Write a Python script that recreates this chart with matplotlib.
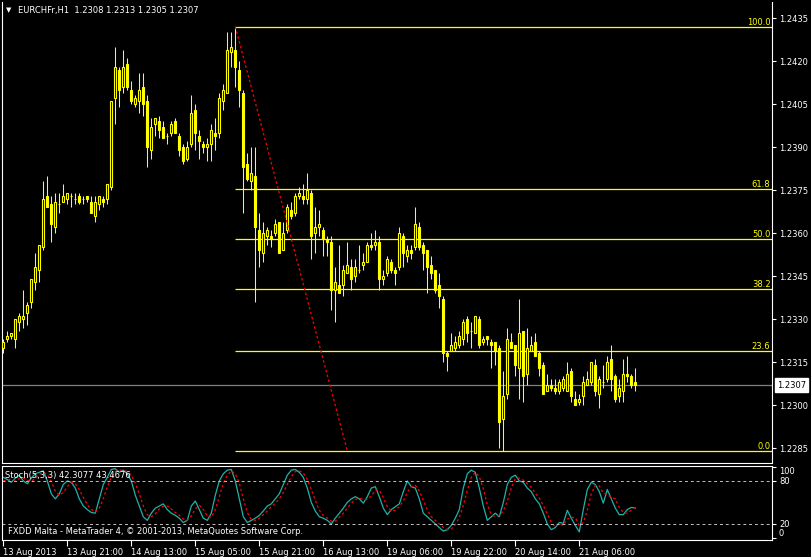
import numpy as np
import matplotlib
matplotlib.use("Agg")
import matplotlib.pyplot as plt
import matplotlib.transforms as mtransforms

# EURCHFr H1, one value per bar, bar 0 = 13 Aug 2013 05:00
symbol = "EURCHFr,H1"
opens = [
    1.2320, 1.2323, 1.2324, 1.2323, 1.2329, 1.2330, 1.2332, 1.2336, 1.2343, 1.2347,
    1.2355, 1.2373, 1.2370, 1.2362, 1.2370, 1.2371, 1.2372, 1.2373, 1.2372, 1.2373,
    1.2372, 1.2373, 1.2371, 1.2366, 1.2370, 1.2372, 1.2372, 1.2376, 1.2407, 1.2417,
    1.2411, 1.2419, 1.2410, 1.2405, 1.2406, 1.2411, 1.2406, 1.2389, 1.2398, 1.2399,
    1.2397, 1.2394, 1.2395, 1.2399, 1.2394, 1.2390, 1.2386, 1.2391, 1.2403, 1.2394,
    1.2391, 1.2390, 1.2391, 1.2395, 1.2395, 1.2406, 1.2409, 1.2423, 1.2424, 1.2417,
    1.2409, 1.2384, 1.2378, 1.2380, 1.2361, 1.2353, 1.2359, 1.2359, 1.2360, 1.2364,
    1.2354, 1.2361, 1.2368, 1.2367, 1.2373, 1.2373, 1.2372, 1.2374, 1.2360, 1.2362,
    1.2361, 1.2358, 1.2357, 1.2340, 1.2342, 1.2342, 1.2346, 1.2348, 1.2345, 1.2347,
    1.2349, 1.2350, 1.2356, 1.2356, 1.2357, 1.2344, 1.2346, 1.2350, 1.2347, 1.2348,
    1.2359, 1.2352, 1.2354, 1.2355, 1.2362, 1.2356, 1.2354, 1.2349, 1.2347, 1.2342,
    1.2337, 1.2318, 1.2319, 1.2320, 1.2321, 1.2323, 1.2330, 1.2326, 1.2325, 1.2330,
    1.2322, 1.2324, 1.2322, 1.2322, 1.2320, 1.2295, 1.2304, 1.2322, 1.2321, 1.2313,
    1.2326, 1.2311, 1.2319, 1.2322, 1.2318, 1.2314, 1.2305, 1.2307, 1.2306, 1.2305,
    1.2306, 1.2305, 1.2312, 1.2302, 1.2301, 1.2303, 1.2307, 1.2308, 1.2314, 1.2304,
    1.2308, 1.2309, 1.2316, 1.2310, 1.2303, 1.2305, 1.2311, 1.2310, 1.2308]
highs = [
    1.2323, 1.2326, 1.2325, 1.2330, 1.2332, 1.2340, 1.2336, 1.2344, 1.2353, 1.2356,
    1.2378, 1.2380, 1.2373, 1.2374, 1.2374, 1.2377, 1.2374, 1.2374, 1.2374, 1.2374,
    1.2373, 1.2373, 1.2373, 1.2373, 1.2373, 1.2373, 1.2377, 1.2406, 1.2425, 1.2418,
    1.2424, 1.2421, 1.2413, 1.2408, 1.2416, 1.2416, 1.2408, 1.2400, 1.2400, 1.2401,
    1.2399, 1.2395, 1.2399, 1.2400, 1.2395, 1.2391, 1.2392, 1.2408, 1.2405, 1.2396,
    1.2392, 1.2393, 1.2398, 1.2400, 1.2409, 1.2412, 1.2430, 1.2430, 1.2432, 1.2420,
    1.2410, 1.2388, 1.2390, 1.2390, 1.2367, 1.2364, 1.2362, 1.2361, 1.2365, 1.2364,
    1.2364, 1.2370, 1.2371, 1.2374, 1.2376, 1.2377, 1.2381, 1.2375, 1.2369, 1.2368,
    1.2362, 1.2359, 1.2359, 1.2348, 1.2356, 1.2349, 1.2357, 1.2351, 1.2351, 1.2356,
    1.2353, 1.2357, 1.2360, 1.2361, 1.2359, 1.2347, 1.2352, 1.2351, 1.2348, 1.2362,
    1.2360, 1.2356, 1.2356, 1.2369, 1.2364, 1.2357, 1.2354, 1.2352, 1.2347, 1.2346,
    1.2338, 1.2319, 1.2325, 1.2324, 1.2326, 1.2330, 1.2331, 1.2329, 1.2331, 1.2331,
    1.2324, 1.2324, 1.2323, 1.2322, 1.2321, 1.2312, 1.2327, 1.2325, 1.2321, 1.2337,
    1.2326, 1.2327, 1.2324, 1.2325, 1.2319, 1.2315, 1.2311, 1.2309, 1.2309, 1.2309,
    1.2310, 1.2315, 1.2313, 1.2305, 1.2304, 1.2310, 1.2312, 1.2315, 1.2316, 1.2310,
    1.2314, 1.2317, 1.2321, 1.2311, 1.2309, 1.2316, 1.2317, 1.2311, 1.2313]
lows = [
    1.2318, 1.2322, 1.2323, 1.2320, 1.2326, 1.2327, 1.2328, 1.2334, 1.2340, 1.2343,
    1.2354, 1.2369, 1.2357, 1.2360, 1.2367, 1.2371, 1.2370, 1.2369, 1.2370, 1.2370,
    1.2370, 1.2371, 1.2367, 1.2364, 1.2368, 1.2369, 1.2370, 1.2375, 1.2398, 1.2404,
    1.2409, 1.2410, 1.2405, 1.2404, 1.2402, 1.2401, 1.2383, 1.2386, 1.2394, 1.2393,
    1.2393, 1.2391, 1.2394, 1.2395, 1.2387, 1.2384, 1.2385, 1.2390, 1.2389, 1.2386,
    1.2388, 1.2385, 1.2385, 1.2389, 1.2393, 1.2403, 1.2409, 1.2418, 1.2411, 1.2404,
    1.2367, 1.2378, 1.2375, 1.2336, 1.2348, 1.2350, 1.2356, 1.2355, 1.2359, 1.2353,
    1.2354, 1.2360, 1.2365, 1.2366, 1.2372, 1.2370, 1.2370, 1.2351, 1.2353, 1.2359,
    1.2352, 1.2352, 1.2333, 1.2329, 1.2339, 1.2338, 1.2346, 1.2340, 1.2343, 1.2346,
    1.2347, 1.2350, 1.2354, 1.2354, 1.2340, 1.2342, 1.2345, 1.2346, 1.2342, 1.2347,
    1.2348, 1.2350, 1.2351, 1.2354, 1.2354, 1.2347, 1.2339, 1.2344, 1.2339, 1.2334,
    1.2315, 1.2312, 1.2319, 1.2319, 1.2320, 1.2321, 1.2322, 1.2320, 1.2325, 1.2320,
    1.2321, 1.2321, 1.2313, 1.2314, 1.2285, 1.2284, 1.2302, 1.2320, 1.2310, 1.2302,
    1.2301, 1.2307, 1.2319, 1.2317, 1.2310, 1.2304, 1.2305, 1.2305, 1.2304, 1.2304,
    1.2305, 1.2305, 1.2301, 1.2300, 1.2300, 1.2300, 1.2307, 1.2307, 1.2303, 1.2299,
    1.2306, 1.2308, 1.2305, 1.2301, 1.2301, 1.2301, 1.2308, 1.2306, 1.2305]
closes = [
    1.2322, 1.2324, 1.2325, 1.2330, 1.2331, 1.2331, 1.2335, 1.2344, 1.2348, 1.2356,
    1.2372, 1.2369, 1.2363, 1.2371, 1.2370, 1.2373, 1.2374, 1.2373, 1.2372, 1.2371,
    1.2372, 1.2372, 1.2367, 1.2371, 1.2373, 1.2371, 1.2377, 1.2406, 1.2418, 1.2410,
    1.2418, 1.2411, 1.2406, 1.2407, 1.2410, 1.2405, 1.2390, 1.2397, 1.2400, 1.2396,
    1.2393, 1.2394, 1.2398, 1.2395, 1.2389, 1.2385, 1.2390, 1.2402, 1.2395, 1.2392,
    1.2390, 1.2391, 1.2396, 1.2394, 1.2407, 1.2410, 1.2424, 1.2425, 1.2418, 1.2410,
    1.2383, 1.2379, 1.2381, 1.2362, 1.2354, 1.2360, 1.2361, 1.2358, 1.2363, 1.2353,
    1.2360, 1.2369, 1.2366, 1.2373, 1.2374, 1.2372, 1.2375, 1.2359, 1.2362, 1.2363,
    1.2358, 1.2357, 1.2340, 1.2343, 1.2339, 1.2347, 1.2349, 1.2344, 1.2348, 1.2347,
    1.2350, 1.2356, 1.2355, 1.2357, 1.2344, 1.2345, 1.2351, 1.2347, 1.2346, 1.2360,
    1.2353, 1.2354, 1.2353, 1.2363, 1.2355, 1.2353, 1.2348, 1.2346, 1.2340, 1.2338,
    1.2318, 1.2317, 1.2321, 1.2322, 1.2324, 1.2329, 1.2325, 1.2326, 1.2331, 1.2321,
    1.2323, 1.2323, 1.2321, 1.2319, 1.2294, 1.2303, 1.2323, 1.2320, 1.2314, 1.2325,
    1.2310, 1.2320, 1.2321, 1.2317, 1.2313, 1.2304, 1.2307, 1.2306, 1.2305, 1.2308,
    1.2309, 1.2311, 1.2303, 1.2300, 1.2302, 1.2308, 1.2309, 1.2315, 1.2305, 1.2309,
    1.2308, 1.2315, 1.2309, 1.2302, 1.2306, 1.2311, 1.2310, 1.2307, 1.2307]

stoch_main = [
    85, 82, 78, 84, 88, 80, 76, 84, 90, 92,
    94, 80, 62, 55, 62, 75, 80, 78, 70, 55,
    45, 40, 36, 35, 55, 75, 85, 96, 97, 92,
    95, 90, 80, 60, 45, 30, 25, 35, 42, 45,
    48, 40, 35, 32, 28, 22, 25, 45, 52, 40,
    28, 25, 35, 60, 80, 90, 95, 96, 80, 55,
    30, 22, 25, 28, 32, 38, 45, 48, 55, 62,
    75, 88, 95, 96, 92, 85, 70, 50, 38, 30,
    28, 25, 20, 28, 35, 42, 50, 55, 58, 55,
    49, 58, 70, 72, 58, 42, 33, 40, 44, 48,
    65, 80, 72, 70, 55, 35, 30, 25, 20, 15,
    10, 12, 18, 28, 40, 70, 90, 95, 92, 70,
    45, 25, 30, 35, 30, 50, 75, 85, 88, 80,
    78, 70, 65, 55, 48, 35, 20, 12, 15, 22,
    21, 39, 28, 18, 9, 40, 68, 78, 75, 65,
    49, 68, 55, 42, 33, 33, 40, 43, 42.3077]
stoch_signal = [
    80, 82, 82, 81, 83, 84, 81, 80, 83, 89,
    92, 89, 79, 66, 60, 64, 72, 78, 76, 68,
    57, 47, 40, 37, 42, 55, 72, 85, 93, 95,
    95, 93, 88, 77, 62, 45, 33, 30, 34, 41,
    45, 45, 41, 36, 32, 27, 25, 31, 41, 46,
    40, 31, 29, 40, 58, 77, 88, 94, 90, 77,
    55, 36, 26, 25, 28, 33, 38, 44, 49, 55,
    64, 75, 86, 93, 94, 91, 82, 68, 53, 39,
    32, 28, 24, 24, 29, 35, 42, 49, 54, 56,
    54, 54, 59, 67, 67, 57, 44, 38, 39, 44,
    52, 64, 72, 74, 66, 53, 40, 30, 25, 20,
    15, 12, 13, 19, 29, 46, 67, 85, 92, 86,
    69, 47, 33, 30, 32, 38, 52, 70, 83, 84,
    81, 76, 71, 63, 56, 46, 34, 22, 16, 20,
    18, 27, 29, 29, 18, 22, 39, 62, 74, 73,
    63, 61, 57, 55, 43, 36, 35, 39, 43.4676]

time_labels = ["13 Aug 2013", "13 Aug 21:00", "14 Aug 13:00", "15 Aug 05:00",
               "15 Aug 21:00", "16 Aug 13:00", "19 Aug 06:00", "19 Aug 22:00",
               "20 Aug 14:00", "21 Aug 06:00"]
label_every = 16  # bars between time labels

fib_levels = [0.0, 23.6, 38.2, 50.0, 61.8, 100.0]
fib_bars = [58, 86]          # bar of the high, bar where the drawn line ends
fib_prices = [1.2432, 1.2284]

W, H = 812, 557
BG = "black"
YEL = "#ffff00"
FS = 6


def box(x0, y0, x1, y1):
    return [x0 / W, 1 - y1 / H, (x1 - x0) / W, (y1 - y0) / H]


plt.rcParams["font.family"] = ["DejaVu Sans"]
fig = plt.figure(figsize=(W / 100, H / 100), dpi=100, facecolor=BG)
ax = fig.add_axes(box(2, 2, 772, 463), facecolor=BG)
ax_st = fig.add_axes(box(2, 466, 772, 540), facecolor=BG)

o, h, l, c = map(np.array, (opens, highs, lows, closes))
idx = np.arange(len(c))
up = c >= o

#%% candles
ax.vlines(idx, l, h, color=YEL, lw=0.75, zorder=2)
ax.bar(idx, np.abs(c - o), bottom=np.minimum(o, c), width=0.5,
       color=np.where(up, BG, YEL), edgecolor=YEL, linewidth=0.8, zorder=3)

#%% fibonacci + trend line
hi, lo = fib_prices
for lev in fib_levels:
    p = lo + (hi - lo) * lev / 100
    ax.hlines(p, fib_bars[0], 200, color=YEL, lw=0.9, zorder=1)
    ax.text(191.8, p, f"{lev:.1f}", color=YEL, fontsize=FS, ha="right", va="bottom")
ax.plot(fib_bars, fib_prices, color="red", lw=0.9, ls=(0, (2, 2)), zorder=4)

#%% last price
last = closes[-1]
ax.axhline(last, color="#808080", lw=0.9, zorder=1)
tr = mtransforms.blended_transform_factory(ax.transAxes, ax.transData)
ax.text(1.006, last, f"{last:.4f}", transform=tr, color="black", fontsize=FS,
        ha="left", va="center",
        bbox=dict(boxstyle="square,pad=0.25", fc="white", ec="white"))

ax.set_xlim(-0.325, 192.175)
ax.set_ylim(1.22798, 1.24406)
ax.set_yticks(np.arange(1.2285, 1.24351, 0.0015))
ax.yaxis.set_major_formatter(plt.FormatStrFormatter("%.4f"))
ax.yaxis.tick_right()
ax.tick_params(axis="y", colors="white", labelsize=FS, length=3, pad=2)
ax.tick_params(axis="x", bottom=False, labelbottom=False)
for side in ["left", "right", "bottom"]:
    ax.spines[side].set_color("white")
ax.spines["top"].set_visible(False)

#%% stochastic pane
ax_st.plot(idx, stoch_main, color="#20b2aa", lw=0.9)
ax_st.plot(idx, stoch_signal, color="red", lw=0.9, ls=(0, (2, 2)))
for lev in [80, 20]:
    ax_st.axhline(lev, color="#c0c0c0", lw=0.7, ls=(0, (3, 3)))
ax_st.set_xlim(-0.325, 192.175)
ax_st.set_ylim(-2.4, 100.8)
ax_st.yaxis.tick_right()
ax_st.set_yticks([0, 20, 80, 100])
ax_st.set_yticklabels(["0", "20", "80", "100"])
ax_st.tick_params(axis="y", colors="white", labelsize=FS, length=3, pad=2)
labs = ax_st.get_yticklabels()
labs[0].set_va("bottom")
labs[3].set_va("top")
ax_st.set_xticks(np.arange(len(time_labels)) * label_every)
ax_st.set_xticklabels(time_labels)
ax_st.tick_params(axis="x", colors="white", labelsize=FS, length=4, pad=2)
for lbl in ax_st.get_xticklabels():
    lbl.set_ha("left")
for s in ax_st.spines.values():
    s.set_color("white")

ax_st.text(0.004, 0.93, f"Stoch(5,3,3) {stoch_main[-1]:.4f} {stoch_signal[-1]:.4f}",
           transform=ax_st.transAxes, color="white", fontsize=FS, va="top")
fig.text(8 / W, 1 - 532 / H,
         "FXDD Malta - MetaTrader 4, \u00a9 2001-2013, MetaQuotes Software Corp.",
         color="white", fontsize=FS, va="center")

#%% header
fig.text(6 / W, 1 - 10 / H, "\u25bc", color="white", fontsize=5, va="center")
fig.text(18 / W, 1 - 10 / H,
         f"{symbol}  {opens[-1]:.4f} {highs[-1]:.4f} {lows[-1]:.4f} {closes[-1]:.4f}",
         color="white", fontsize=6, va="center")

fig.savefig("out.png", dpi=100, facecolor=BG)
